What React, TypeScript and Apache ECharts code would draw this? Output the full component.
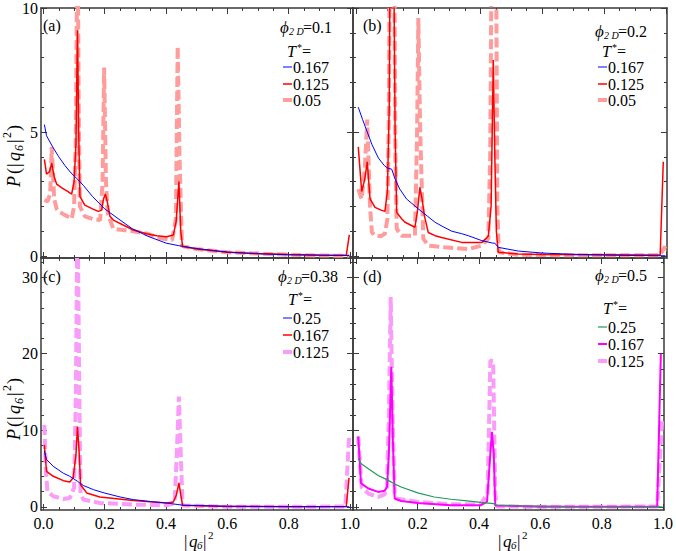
import React, { useEffect, useRef } from 'react';
import * as echarts from 'echarts';

type Pt = [number, number];

// ---------- data: P(|q6|^2) ----------
// (a) phi2D = 0.1
const A_T0167: Pt[] = [[0.003,5.3],[0.01,4.85],[0.03,4.4],[0.05,4.0],[0.07,3.65],[0.09,3.35],[0.111,3.1],[0.13,2.85],[0.16,2.4],[0.2,1.9],[0.25,1.45],[0.29,1.1],[0.34,0.8],[0.4,0.52],[0.44,0.42],[0.5,0.3],[0.6,0.16],[0.7,0.09],[0.8,0.05],[0.9,0.03],[0.998,0.02]];
const A_T0125: Pt[] = [[0.003,3.9],[0.01,3.3],[0.02,3.4],[0.027,3.75],[0.035,3.2],[0.043,2.9],[0.06,2.75],[0.08,2.6],[0.092,2.5],[0.1,3.0],[0.106,4.5],[0.111,9.1],[0.115,5.0],[0.119,2.4],[0.135,2.05],[0.16,1.9],[0.179,1.8],[0.19,1.85],[0.196,2.3],[0.202,2.5],[0.208,2.2],[0.217,1.6],[0.228,1.45],[0.26,1.25],[0.293,1.05],[0.337,0.9],[0.37,0.82],[0.402,0.78],[0.424,0.85],[0.433,1.4],[0.442,3.0],[0.448,1.0],[0.454,0.38],[0.5,0.28],[0.6,0.15],[0.7,0.1],[0.8,0.06],[0.9,0.04],[0.988,0.03],[0.998,0.85]];
const A_T005: Pt[] = [[0.003,2.26],[0.013,2.2],[0.022,2.5],[0.027,4.4],[0.035,2.3],[0.043,1.9],[0.05,1.8],[0.07,1.65],[0.092,1.5],[0.1,2.0],[0.106,5],[0.111,14],[0.115,6],[0.119,2.0],[0.135,1.6],[0.16,1.5],[0.185,1.45],[0.193,3],[0.198,7.6],[0.204,3],[0.21,1.7],[0.228,1.1],[0.26,1.05],[0.293,1.0],[0.337,0.9],[0.38,0.72],[0.42,0.65],[0.432,1.5],[0.438,8.45],[0.444,4],[0.452,0.4],[0.5,0.28],[0.6,0.15],[0.7,0.1],[0.8,0.05],[0.9,0.02],[0.998,0.01]];

// (b) phi2D = 0.2
const B_T0167: Pt[] = [[0.006,6.0],[0.02,5.5],[0.035,5.0],[0.05,4.5],[0.071,3.95],[0.09,3.65],[0.1,3.55],[0.114,3.5],[0.125,3.1],[0.14,2.7],[0.162,2.3],[0.2,1.9],[0.23,1.6],[0.254,1.36],[0.28,1.18],[0.308,1.0],[0.34,0.9],[0.361,0.82],[0.405,0.62],[0.44,0.52],[0.447,0.52],[0.458,0.35],[0.523,0.2],[0.6,0.12],[0.7,0.07],[0.8,0.04],[0.9,0.02],[0.998,0.01]];
const B_T0125: Pt[] = [[0.006,4.4],[0.017,2.6],[0.027,3.1],[0.035,3.8],[0.044,2.3],[0.06,1.96],[0.08,1.85],[0.092,1.8],[0.1,2.6],[0.106,6],[0.109,13],[0.12,13],[0.125,5],[0.13,1.76],[0.146,1.5],[0.157,1.36],[0.189,1.16],[0.197,1.8],[0.205,2.77],[0.212,2.3],[0.22,1.6],[0.232,0.95],[0.254,0.82],[0.275,0.75],[0.34,0.55],[0.405,0.55],[0.426,0.8],[0.435,2.0],[0.442,7.9],[0.447,4],[0.452,1.0],[0.458,0.15],[0.523,0.08],[0.6,0.06],[0.8,0.05],[0.981,0.04],[0.991,3.8]];
const B_T005: Pt[] = [[0.006,2.7],[0.017,2.3],[0.027,3.5],[0.035,5.5],[0.044,2.0],[0.05,0.95],[0.06,0.82],[0.08,0.8],[0.092,0.9],[0.1,1.5],[0.105,6],[0.108,13],[0.122,13],[0.126,4],[0.13,1.1],[0.146,0.82],[0.189,0.82],[0.196,5],[0.2,9.6],[0.206,5],[0.216,0.7],[0.232,0.42],[0.286,0.35],[0.361,0.28],[0.405,0.42],[0.426,0.7],[0.432,4],[0.437,13],[0.451,13],[0.455,2],[0.46,0.15],[0.52,0.05],[0.7,0.03],[0.98,0.03],[0.998,0.4]];

// (c) phi2D = 0.38
const C_T025: Pt[] = [[0.003,7.3],[0.01,6.2],[0.032,5.3],[0.065,4.4],[0.086,4.0],[0.111,3.35],[0.13,2.8],[0.163,2.26],[0.198,1.83],[0.25,1.3],[0.293,0.96],[0.35,0.7],[0.4,0.52],[0.456,0.22],[0.6,0.09],[0.8,0.05],[0.998,0.03]];
const C_T0167: Pt[] = [[0.003,8.1],[0.01,4.65],[0.032,4.0],[0.065,3.43],[0.086,3.26],[0.097,3.8],[0.106,6.8],[0.111,10.5],[0.117,6.8],[0.121,2.9],[0.141,1.83],[0.184,1.3],[0.293,0.83],[0.402,0.52],[0.424,0.65],[0.434,1.6],[0.442,3.13],[0.448,1.6],[0.454,0.22],[0.6,0.05],[0.8,0.04],[0.988,0.05],[0.997,3.8]];
const C_T0125: Pt[] = [[0.003,10.7],[0.008,4.65],[0.013,2.0],[0.032,1.4],[0.065,1.04],[0.086,1.17],[0.1,2.5],[0.106,15.5],[0.111,40],[0.117,15],[0.121,1.8],[0.13,0.96],[0.184,0.52],[0.3,0.3],[0.402,0.22],[0.428,0.52],[0.435,6.8],[0.442,14.4],[0.448,6.8],[0.454,0.2],[0.6,0.02],[0.8,0.02],[0.985,0.05],[0.997,9.0]];

// (d) phi2D = 0.5
const D_T025: Pt[] = [[0.006,6.3],[0.017,5.6],[0.039,5.0],[0.071,4.1],[0.098,3.6],[0.125,3.0],[0.146,2.6],[0.2,1.83],[0.254,1.3],[0.308,1.0],[0.361,0.78],[0.405,0.6],[0.448,0.43],[0.458,0.22],[0.52,0.13],[0.7,0.05],[0.998,0.02]];
const D_T0167: Pt[] = [[0.006,9.2],[0.015,3.1],[0.039,2.4],[0.071,1.96],[0.092,2.1],[0.1,2.6],[0.106,7],[0.114,18.3],[0.119,8.7],[0.125,1.1],[0.146,0.78],[0.2,0.52],[0.308,0.22],[0.405,0.22],[0.426,0.65],[0.437,7],[0.442,9.8],[0.448,7],[0.453,0.2],[0.6,0.03],[0.8,0.02],[0.981,0.02],[0.993,20]];
const D_T0125: Pt[] = [[0.006,9.2],[0.017,2.6],[0.039,1.74],[0.071,1.3],[0.092,1.65],[0.1,2.6],[0.106,12],[0.112,27.4],[0.118,12],[0.125,1.74],[0.13,1.1],[0.2,0.65],[0.308,0.35],[0.405,0.35],[0.428,1.74],[0.437,19.1],[0.446,19.1],[0.453,1.74],[0.458,0.05],[0.7,0.02],[0.981,0.05],[0.997,11.3]];

// ---------- ticks / labels ----------
const X_MAJOR = [0, 0.2, 0.4, 0.6, 0.8, 1.0];
const X_MINOR = [0.05, 0.1, 0.15, 0.25, 0.3, 0.35, 0.45, 0.5, 0.55, 0.65, 0.7, 0.75, 0.85, 0.9, 0.95];
const X_LABELS_C = [0, 0.2, 0.4, 0.6, 0.8, 1.0];
const X_LABELS_D = [0.2, 0.4, 0.6, 0.8, 1.0];
const Y_MAJOR_TOP = [0, 5, 10];
const Y_MINOR_TOP = [1, 2, 3, 4, 6, 7, 8, 9];
const Y_MAJOR_BOT = [0, 10, 20, 30];
const Y_MINOR_BOT = [2, 4, 6, 8, 12, 14, 16, 18, 22, 24, 26, 28, 32];

const PANEL_LABELS = ['(a)', '(b)', '(c)', '(d)'];
const PHI_VALUES = ['0.1', '0.2', '0.38', '0.5'];
const T_LABELS = [
  ['0.167', '0.125', '0.05'],
  ['0.167', '0.125', '0.05'],
  ['0.25', '0.167', '0.125'],
  ['0.25', '0.167', '0.125'],
];
const PANEL_DATA: Pt[][][] = [
  [A_T0167, A_T0125, A_T005],
  [B_T0167, B_T0125, B_T005],
  [C_T025, C_T0167, C_T0125],
  [D_T025, D_T0167, D_T0125],
];

// ---------- layout / styles ----------
const FONT = '"Liberation Serif", "Times New Roman", "DejaVu Serif", serif';
const FRAME = '#3a3a3a';
const GRIDS = [
  { left: 41, top: 8, width: 312, height: 250 },
  { left: 353, top: 8, width: 314, height: 250 },
  { left: 41, top: 258, width: 312, height: 252 },
  { left: 353, top: 258, width: 314, height: 252 },
];
const XRANGE = [[-0.008, 1.01], [-0.011, 1.003], [-0.008, 1.01], [-0.011, 1.003]];
const YRANGE = [[-0.08, 10], [-0.08, 10], [-0.4, 32.5], [-0.4, 32.5]];

type LS = { color: string; width: number; dashed?: boolean };
const STYLES: LS[][] = [
  [{ color: '#0000ff', width: 1 }, { color: '#ff0000', width: 1.5 }, { color: '#ff9c9c', width: 4, dashed: true }],
  [{ color: '#0000ff', width: 1 }, { color: '#ff0000', width: 1.5 }, { color: '#ff9c9c', width: 4, dashed: true }],
  [{ color: '#0000ff', width: 1 }, { color: '#ff0000', width: 1.5 }, { color: '#fa9cfa', width: 4, dashed: true }],
  [{ color: '#239b5b', width: 1.2 }, { color: '#ff00ff', width: 2 }, { color: '#fa9cfa', width: 4, dashed: true }],
];

const LEG = [
  { phi: [280, 27], t: [287, 51], mx: 283, rows: [67, 84, 100], lab: [43, 25] },
  { phi: [595, 31], t: [602, 51], mx: 598, rows: [67, 84, 100], lab: [363, 25] },
  { phi: [278, 276], t: [288, 299], mx: 283, rows: [318, 335, 352], lab: [43, 276] },
  { phi: [595, 275], t: [603, 308], mx: 598, rows: [327, 344, 361], lab: [363, 276] },
];

function txt(x: number, y: number, text: string, size: number, italic = false, align = 'left') {
  return {
    type: 'text', x, y, silent: true,
    style: {
      text, fontFamily: FONT, fontSize: size, fontStyle: italic ? 'italic' : 'normal', fill: '#000',
      align, verticalAlign: 'middle', textAlign: align, textVerticalAlign: 'middle',
    },
  };
}

function buildAxes(g: number) {
  const [xmin, xmax] = XRANGE[g];
  const [ymin, ymax] = YRANGE[g];
  const xb = { type: 'value', gridIndex: g, min: xmin, max: xmax, splitLine: { show: false } };
  const yb = { type: 'value', gridIndex: g, min: ymin, max: ymax, splitLine: { show: false } };
  const line = { show: true, onZero: false, lineStyle: { color: FRAME, width: 1.5 } };
  const noLine = { show: false, onZero: false };
  const maj = (vals: number[]) => ({ show: true, inside: true, length: 6, customValues: vals, lineStyle: { color: FRAME, width: 1 } });
  const min = (vals: number[]) => ({ show: true, inside: true, length: 3, customValues: vals, lineStyle: { color: FRAME, width: 1 } });
  const xLabelVals = g === 2 ? X_LABELS_C : g === 3 ? X_LABELS_D : null;
  const yLabelVals = g === 0 ? Y_MAJOR_TOP : g === 2 ? Y_MAJOR_BOT : null;
  const yMaj = g < 2 ? Y_MAJOR_TOP : Y_MAJOR_BOT;
  const yMin = g < 2 ? Y_MINOR_TOP : Y_MINOR_BOT;
  const xLabel = xLabelVals
    ? { show: true, customValues: xLabelVals, formatter: (v: number) => v.toFixed(1), fontFamily: FONT, fontSize: 16, color: '#000', margin: 5 }
    : { show: false };
  const yLabel = yLabelVals
    ? { show: true, customValues: yLabelVals, formatter: (v: number) => String(Math.round(v)), fontFamily: FONT, fontSize: 16, color: '#000', margin: 3 }
    : { show: false };
  const xAxes = [
    { ...xb, position: 'bottom', axisLine: line, axisTick: maj(X_MAJOR), axisLabel: xLabel },
    { ...xb, position: 'bottom', axisLine: noLine, axisTick: min(X_MINOR), axisLabel: { show: false } },
    { ...xb, position: 'top', axisLine: line, axisTick: maj(X_MAJOR), axisLabel: { show: false } },
    { ...xb, position: 'top', axisLine: noLine, axisTick: min(X_MINOR), axisLabel: { show: false } },
  ];
  const yAxes = [
    { ...yb, position: 'left', axisLine: line, axisTick: maj(yMaj), axisLabel: yLabel },
    { ...yb, position: 'left', axisLine: noLine, axisTick: min(yMin), axisLabel: { show: false } },
    { ...yb, position: 'right', axisLine: line, axisTick: maj(yMaj), axisLabel: { show: false } },
    { ...yb, position: 'right', axisLine: noLine, axisTick: min(yMin), axisLabel: { show: false } },
  ];
  return { xAxes, yAxes };
}

function buildGraphics() {
  const els: any[] = [];
  for (let g = 0; g < 4; g++) {
    const L = LEG[g];
    els.push(txt(L.lab[0], L.lab[1], PANEL_LABELS[g], 16));
    const [px, py] = L.phi;
    els.push(txt(px, py, '\u03d5', 17, true));
    els.push(txt(px + 9, py + 4, '2 D', 10, true));
    els.push(txt(px + 23, py, '=' + PHI_VALUES[g], 16));
    const [tx, ty] = L.t;
    els.push(txt(tx, ty, 'T', 16, true));
    els.push(txt(tx + 10, ty - 4, '*', 10));
    els.push(txt(tx + 15, ty, '=', 16));
    for (let k = 0; k < 3; k++) {
      const s = STYLES[g][k];
      const y = L.rows[k];
      els.push({
        type: 'line', silent: true,
        shape: { x1: L.mx, y1: y, x2: L.mx + 9, y2: y },
        style: { stroke: s.color, lineWidth: s.width },
      });
      els.push(txt(L.mx + 10, y, T_LABELS[g][k], 16));
    }
  }
  // y-axis titles P(|q6|^2), rotated
  const yTitle = (ox: number, oy: number) => ({
    type: 'group', x: ox, y: oy, rotation: Math.PI / 2, silent: true,
    children: [
      txt(0, 0, 'P', 18, true),
      txt(13, 0, '(', 18),
      txt(20, 0, '|', 18),
      txt(26, 0, 'q', 18, true),
      txt(36, 5, '6', 12, true),
      txt(44, 0, '|', 18),
      txt(49, -7, '2', 12),
      txt(56, 0, ')', 18),
    ],
  });
  els.push(yTitle(14, 187));
  els.push(yTitle(14, 440));
  const xTitle = (ox: number, oy: number) => ({
    type: 'group', x: ox, y: oy, silent: true,
    children: [
      txt(0, 0, '|', 17),
      txt(5, 0, 'q', 17, true),
      txt(13, 4, '6', 11, true),
      txt(19, 0, '|', 17),
      txt(24, -6, '2', 11),
    ],
  });
  els.push(xTitle(184, 541));
  els.push(xTitle(498, 541));
  return els;
}

export default function App() {
  const ref = useRef<HTMLDivElement>(null);
  useEffect(() => {
    if (!ref.current) return;
    const chart = echarts.init(ref.current, null, { renderer: 'svg' });
    const xAxis: any[] = [];
    const yAxis: any[] = [];
    const series: any[] = [];
    for (let g = 0; g < 4; g++) {
      const { xAxes, yAxes } = buildAxes(g);
      xAxis.push(...xAxes);
      yAxis.push(...yAxes);
      // draw dashed first so solid lines sit on top
      for (const k of [2, 1, 0]) {
        const s = STYLES[g][k];
        series.push({
          type: 'line',
          name: `${PANEL_LABELS[g]} T*=${T_LABELS[g][k]}`,
          xAxisIndex: g * 4,
          yAxisIndex: g * 4,
          data: PANEL_DATA[g][k],
          showSymbol: false,
          symbol: 'none',
          clip: true,
          silent: true,
          lineStyle: { color: s.color, width: s.width, type: s.dashed ? [10, 4] : 'solid' },
          z: 2 + (2 - k),
        });
      }
    }
    chart.setOption({
      animation: false,
      backgroundColor: '#ffffff',
      grid: GRIDS.map((g) => ({ ...g, containLabel: false })),
      xAxis,
      yAxis,
      series,
      graphic: buildGraphics(),
    });
    return () => chart.dispose();
  }, []);
  return <div ref={ref} style={{ position: 'fixed', left: 0, top: 0, width: 676, height: 551, background: '#fff' }} />;
}
